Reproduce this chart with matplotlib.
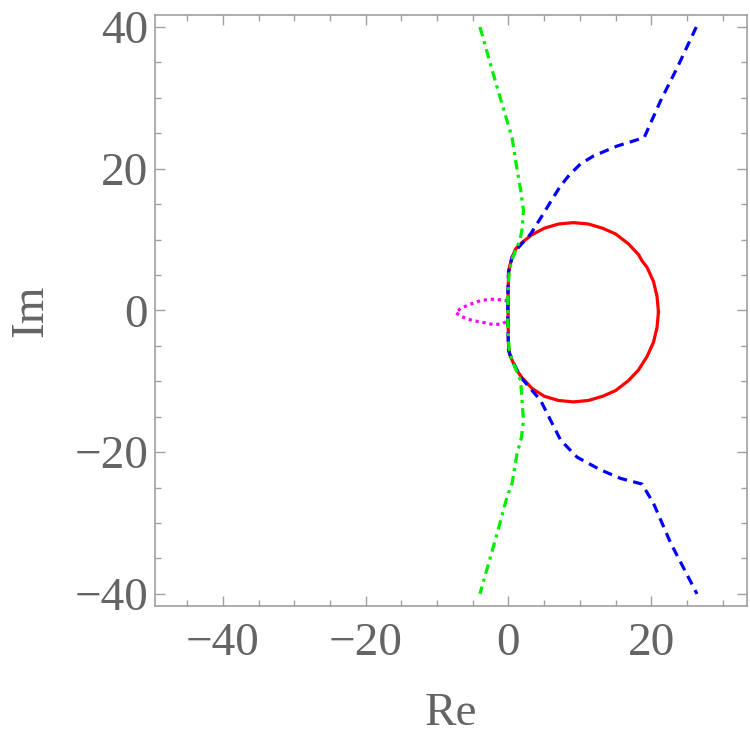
import matplotlib
matplotlib.use("Agg")
import matplotlib.pyplot as plt
from matplotlib.ticker import MultipleLocator

# ---- data (Re, Im) ----
red_re = [21.0, 20.8, 20.3, 19.4, 18.7, 18.2, 16.8, 15.0, 13.2, 11.2, 9.1, 7.0, 5.0, 3.3, 1.9, 1.0, 0.5,
          0.15, 0.0, -0.05, -0.05, 0.0, 0.15, 0.5, 1.0, 1.9, 3.3, 5.0, 7.0, 9.1, 11.2, 13.2, 15.0,
          16.8, 18.2, 19.4, 20.3, 20.8, 21.0]
red_im = [-0.2, 2.0, 4.1, 6.1, 7.0, 7.9, 9.4, 10.8, 11.6, 12.2, 12.4, 12.2, 11.6, 10.7, 9.6, 8.7, 7.5,
          6.2, 5.0, 2.0, -2.0, -5.0, -6.2, -7.0, -8.2, -9.5, -11.0, -12.1, -12.7, -12.9, -12.7, -12.1, -11.3,
          -9.9, -8.4, -6.5, -4.5, -2.4, -0.2]

blue_re = [26.3, 23.6, 21.3, 19.0, 15.2, 11.9, 10.1, 8.5, 7.3, 6.3, 4.6, 3.1, 1.4, 0.5, 0.0, -0.1, -0.1, 0.0,
           0.5, 1.7, 4.5, 5.9, 7.3, 9.6, 12.9, 15.7, 18.7, 20.3, 22.7, 26.4]
blue_im = [40.0, 34.2, 29.6, 24.4, 23.2, 21.8, 20.7, 19.1, 17.6, 16.0, 13.2, 10.8, 8.9, 7.5, 5.5, 2.0, -2.0, -5.6,
           -7.0, -9.4, -12.7, -15.5, -18.3, -20.7, -22.5, -23.7, -24.5, -27.2, -32.8, -40.0]

green_re = [-4.0, -1.6, 0.5, 1.0, 1.7, 2.1, 1.9, 1.6, 0.6, 0.1, -0.1, -0.1, 0.1,
            0.5, 1.7, 2.1, 1.8, 1.2, 0.5, -0.2, -1.6, -4.0]
green_im = [40.0, 31.5, 24.4, 21.1, 17.0, 14.1, 11.5, 9.9, 7.5, 5.5, 2.0, -2.0, -5.6,
            -7.0, -9.9, -15.5, -18.0, -20.2, -24.4, -26.3, -31.5, -40.0]

mag_re = [-0.1, -0.4, -1.1, -2.5, -3.9, -5.3, -6.7, -7.4, -6.5, -5.1, -3.5, -2.1, -0.9, -0.2, -0.1, -0.1]
mag_im = [1.5, 1.4, 1.5, 1.6, 1.4, 0.9, 0.3, -0.3, -0.9, -1.4, -1.7, -2.0, -1.9, -1.5, -1.0, 1.5]

x_ticks = [-40, -20, 0, 20]
y_ticks = [-40, -20, 0, 20, 40]

plt.rcParams['font.family'] = ['Liberation Serif', 'DejaVu Serif']
text_gray = '#646464'
frame_gray = '#a0a0a0'

fig = plt.figure(figsize=(7.5, 7.38), dpi=100)
ax = fig.add_axes([0.2067, 0.1789, 0.7893, 0.8008])

lw = 2.3
ax.plot(red_re, red_im, color='#ff0000', lw=lw, solid_joinstyle='round', zorder=2)
ax.plot(mag_re, mag_im, color='#ff00ff', lw=lw, dashes=(1.0, 1.2), zorder=3)
ax.plot(blue_re, blue_im, color='#0000ff', lw=lw, dashes=(3.0, 2.0), zorder=4)
ax.plot(green_re, green_im, color='#00ee00', lw=lw, dashes=(3.0, 1.6, 1.0, 1.6), zorder=5)

ax.set_xlim(-49.5, 33.4)
ax.set_ylim(-41.7, 41.7)
ax.set_xticks(x_ticks)
ax.set_yticks(y_ticks)
ax.xaxis.set_minor_locator(MultipleLocator(5))
ax.yaxis.set_minor_locator(MultipleLocator(5))
ax.set_xticklabels([str(v).replace('-', '\u2212') for v in x_ticks])
ax.set_yticklabels([str(v).replace('-', '\u2212') for v in y_ticks])

ax.tick_params(which='both', direction='in', top=True, right=True, colors=frame_gray,
               labelcolor=text_gray, labelsize=34, width=1.0)
ax.tick_params(which='major', length=7)
ax.tick_params(which='minor', length=4)
ax.tick_params(axis='x', which='major', pad=12)
ax.tick_params(axis='y', which='major', pad=5)
for s in ax.spines.values():
    s.set_color(frame_gray)
    s.set_linewidth(1.2)

ax.set_xlabel('Re', fontsize=34, color=text_gray, labelpad=20)
ax.set_ylabel('Im', fontsize=34, color=text_gray, labelpad=16)

fig.savefig('out.png', dpi=100)
